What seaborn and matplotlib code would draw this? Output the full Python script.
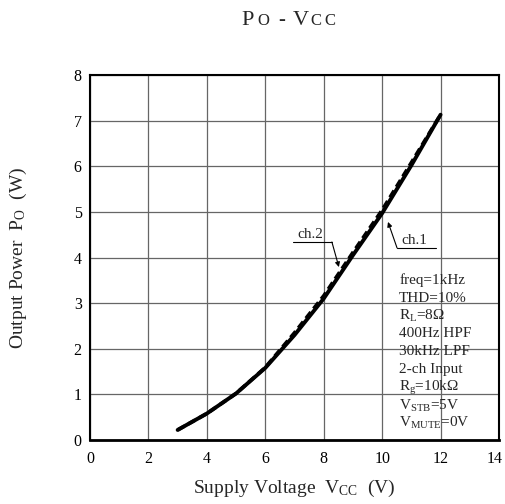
import matplotlib
matplotlib.use("Agg")
import matplotlib.pyplot as plt
import matplotlib.transforms as mtransforms
import seaborn as sns
import pandas as pd

# supply voltage (V) and output power (W)
vcc = [3, 4, 5, 6, 7, 8, 9, 10, 11, 12]
po_ch1 = [0.22, 0.58, 1.02, 1.58, 2.30, 3.10, 4.05, 4.97, 6.02, 7.13]
po_ch2 = [0.22, 0.58, 1.02, 1.59, 2.35, 3.16, 4.11, 5.04, 6.08, 7.13]

x_ticks = [0, 2, 4, 6, 8, 10, 12, 14]
y_ticks = [0, 1, 2, 3, 4, 5, 6, 7, 8]

conditions = [
    "freq=1kHz",
    "THD=10%",
    r"R$_{\mathrm{L}}$=8$\Omega$",
    "400Hz HPF",
    "30kHz LPF",
    "2-ch Input",
    r"R$_{\mathrm{g}}$=10k$\Omega$",
    r"V$_{\mathrm{STB}}$=5V",
    r"V$_{\mathrm{MUTE}}$=0V",
]

sns.set_theme(style="white")
plt.rcParams["font.family"] = ["Liberation Serif", "DejaVu Serif"]
plt.rcParams["mathtext.fontset"] = "custom"
plt.rcParams["mathtext.rm"] = "Liberation Serif"
plt.rcParams["mathtext.it"] = "Liberation Serif:italic"
plt.rcParams["mathtext.bf"] = "Liberation Serif:bold"

df = pd.concat([
    pd.DataFrame({"vcc": vcc, "po": po_ch1, "ch": "ch.1"}),
    pd.DataFrame({"vcc": vcc, "po": po_ch2, "ch": "ch.2"}),
])

fig = plt.figure(figsize=(5.05, 5.04), dpi=100)
ax = fig.add_axes([90 / 505, 64 / 504, 409 / 505, 365 / 504])

sns.lineplot(data=df[df.ch == "ch.1"], x="vcc", y="po", color="black",
             lw=2.8, ax=ax, legend=False, solid_capstyle="round")
sns.lineplot(data=df[df.ch == "ch.2"], x="vcc", y="po", color="black",
             lw=2.6, ax=ax, legend=False)
ax.lines[-1].set_dashes([2.2, 1.2])

ax.set_xlim(0, 14)
ax.set_ylim(0, 8)
ax.set_xticks(x_ticks)
ax.set_yticks(y_ticks)
ax.grid(True, color="#666666", lw=0.9)
ax.tick_params(length=0, labelsize=11.5, colors="black")
ax.tick_params(axis="x", pad=8)
ax.tick_params(axis="y", pad=6)
for s in ax.spines.values():
    s.set_color("black")
    s.set_linewidth(1.5)
ax.spines["bottom"].set_linewidth(2)

# keep the "14" inside the figure edge
last = ax.get_xticklabels()[-1]
last.set_transform(last.get_transform() +
                   mtransforms.ScaledTranslation(-4 / 100, 0, fig.dpi_scale_trans))

ax.set_xlabel(r"Supply Voltage  V$_{\mathrm{CC}}$  (V)", fontsize=14)
ax.set_ylabel(r"Output Power  P$_{\mathrm{O}}$  (W)", fontsize=14)
ax.xaxis.set_label_coords(0.5, -0.105)
ax.yaxis.set_label_coords(-0.15, 0.5)

# conditions block
for i, t in enumerate(conditions):
    ax.text(10.58, 3.5 - i * 0.392, t, fontsize=11, va="center", ha="left")

# channel callouts
ax.plot([6.95, 8.28], [4.34, 4.34], color="black", lw=0.8)
ax.annotate("", xy=(8.52, 3.79), xytext=(8.28, 4.34),
            arrowprops=dict(arrowstyle="-|>", color="black", lw=0.8,
                            mutation_scale=7, shrinkA=0, shrinkB=0))
ax.text(7.55, 4.50, "ch.2", fontsize=11, ha="center", va="center")

ax.plot([10.51, 11.84], [4.21, 4.21], color="black", lw=0.8)
ax.annotate("", xy=(10.2, 4.78), xytext=(10.51, 4.21),
            arrowprops=dict(arrowstyle="-|>", color="black", lw=0.8,
                            mutation_scale=7, shrinkA=0, shrinkB=0))
ax.text(11.1, 4.37, "ch.1", fontsize=11, ha="center", va="center")

# title in small-caps style, one glyph at a time
title_chars = ["P", "O", "-", "V", "C", "C"]
title_sizes = [16, 12, 15, 16, 12, 12]
title_x = [241, 257, 278, 293, 310, 324]
for ch, fs, px in zip(title_chars, title_sizes, title_x):
    fig.text(px / 505, 1 - 25 / 504, ch, fontsize=fs, ha="left", va="baseline")

fig.savefig("out.png", dpi=100)
